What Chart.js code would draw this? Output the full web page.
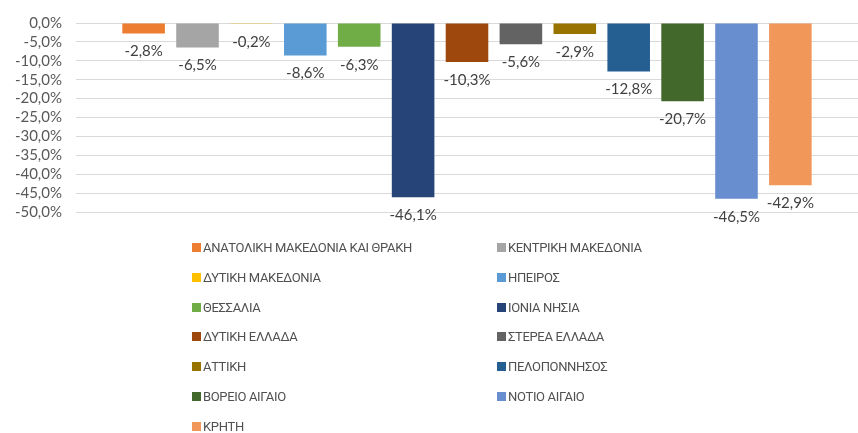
<!DOCTYPE html>
<html>
<head>
<meta charset="utf-8">
<script src="https://cdn.jsdelivr.net/npm/chart.js@4"></script>
<style>
    body { margin: 0; background: #fff; }
    #wrap { position: relative; width: 858px; height: 433px; overflow: hidden; }
    #legend { position: absolute; left: 0; top: 0; width: 858px; height: 433px; pointer-events: none; }
    .item { position: absolute; font: 13px Roboto, "Open Sans", sans-serif; letter-spacing: -0.35px; color: #505050; white-space: nowrap; line-height: 16px; }
    .box { display: inline-block; width: 9px; height: 9px; margin-right: 2px; }
</style>
</head>
<body>
<div id="wrap">
    <canvas id="myChart" width="858" height="433"></canvas>
    <div id="legend"></div>
</div>
<script>
const regions = [
    'ΑΝΑΤΟΛΙΚΗ ΜΑΚΕΔΟΝΙΑ ΚΑΙ ΘΡΑΚΗ', 'ΚΕΝΤΡΙΚΗ ΜΑΚΕΔΟΝΙΑ', 'ΔΥΤΙΚΗ ΜΑΚΕΔΟΝΙΑ', 'ΗΠΕΙΡΟΣ',
    'ΘΕΣΣΑΛΙΑ', 'ΙΟΝΙΑ ΝΗΣΙΑ', 'ΔΥΤΙΚΗ ΕΛΛΑΔΑ', 'ΣΤΕΡΕΑ ΕΛΛΑΔΑ', 'ΑΤΤΙΚΗ',
    'ΠΕΛΟΠΟΝΝΗΣΟΣ', 'ΒΟΡΕΙΟ ΑΙΓΑΙΟ', 'ΝΟΤΙΟ ΑΙΓΑΙΟ', 'ΚΡΗΤΗ'
];
const changes = [-2.8, -6.5, -0.2, -8.6, -6.3, -46.1, -10.3, -5.6, -2.9, -12.8, -20.7, -46.5, -42.9];
const colors = [
    '#ED7D31', '#A5A5A5', '#FFC000', '#5B9BD5', '#70AD47', '#264478', '#9E480E',
    '#636363', '#997300', '#255E91', '#43682B', '#698ED0', '#F1975A'
];
const yTicks = [0, -5, -10, -15, -20, -25, -30, -35, -40, -45, -50];

function pct(v) {
    return v.toFixed(1).replace('.', ',') + '%';
}

// labels under the end of each bar
const barLabels = {
    id: 'barLabels',
    afterDatasetsDraw(chart) {
        let ctx = chart.ctx;
        ctx.save();
        ctx.font = '15px Lato, "Open Sans", sans-serif';
        ctx.fillStyle = '#404040';
        ctx.textAlign = 'center';
        ctx.textBaseline = 'middle';
        chart.data.datasets.forEach((ds, i) => {
            let bar = chart.getDatasetMeta(i).data[0];
            ctx.fillText(pct(ds.data[0]), bar.x, bar.y + 18);
        });
        ctx.restore();
    }
};

let datasets = regions.map((name, i) => {
    return {
        label: name,
        data: [changes[i]],
        backgroundColor: colors[i],
        borderWidth: 0,
        categoryPercentage: 0.896,
        barPercentage: 0.79
    };
});

var myChart = new Chart(document.getElementById('myChart').getContext('2d'), {
    type: 'bar',
    data: {
        labels: [''],
        datasets: datasets
    },
    options: {
        responsive: false,
        animation: false,
        layout: { padding: { top: 20, bottom: 221, right: -5, left: 0 } },
        plugins: {
            legend: { display: false },
            tooltip: { enabled: false }
        },
        scales: {
            x: { display: false },
            y: {
                min: -50,
                max: 0,
                afterFit(scale) { scale.width = 76; },
                afterBuildTicks(scale) { scale.ticks = yTicks.map(v => ({ value: v })); },
                border: { display: false },
                grid: { color: '#d9d9d9', lineWidth: 1, drawTicks: false },
                ticks: {
                    autoSkip: false,
                    padding: 14,
                    color: '#595959',
                    font: { family: 'Lato, "Open Sans", sans-serif', size: 15 },
                    callback: v => pct(v)
                }
            }
        }
    },
    plugins: [barLabels]
});

// two column legend below the plot
let legend = document.getElementById('legend');
let legendHtml = '';
regions.forEach((name, i) => {
    let col = i % 2;
    let row = Math.floor(i / 2);
    let left = col == 0 ? 192 : 497;
    let top = 240 + row * 29.8;
    legendHtml += `<div class="item" style="left:${left}px;top:${top}px"><span class="box" style="background:${colors[i]}"></span>${name}</div>`;
});
legend.innerHTML = legendHtml;
</script>
</body>
</html>
